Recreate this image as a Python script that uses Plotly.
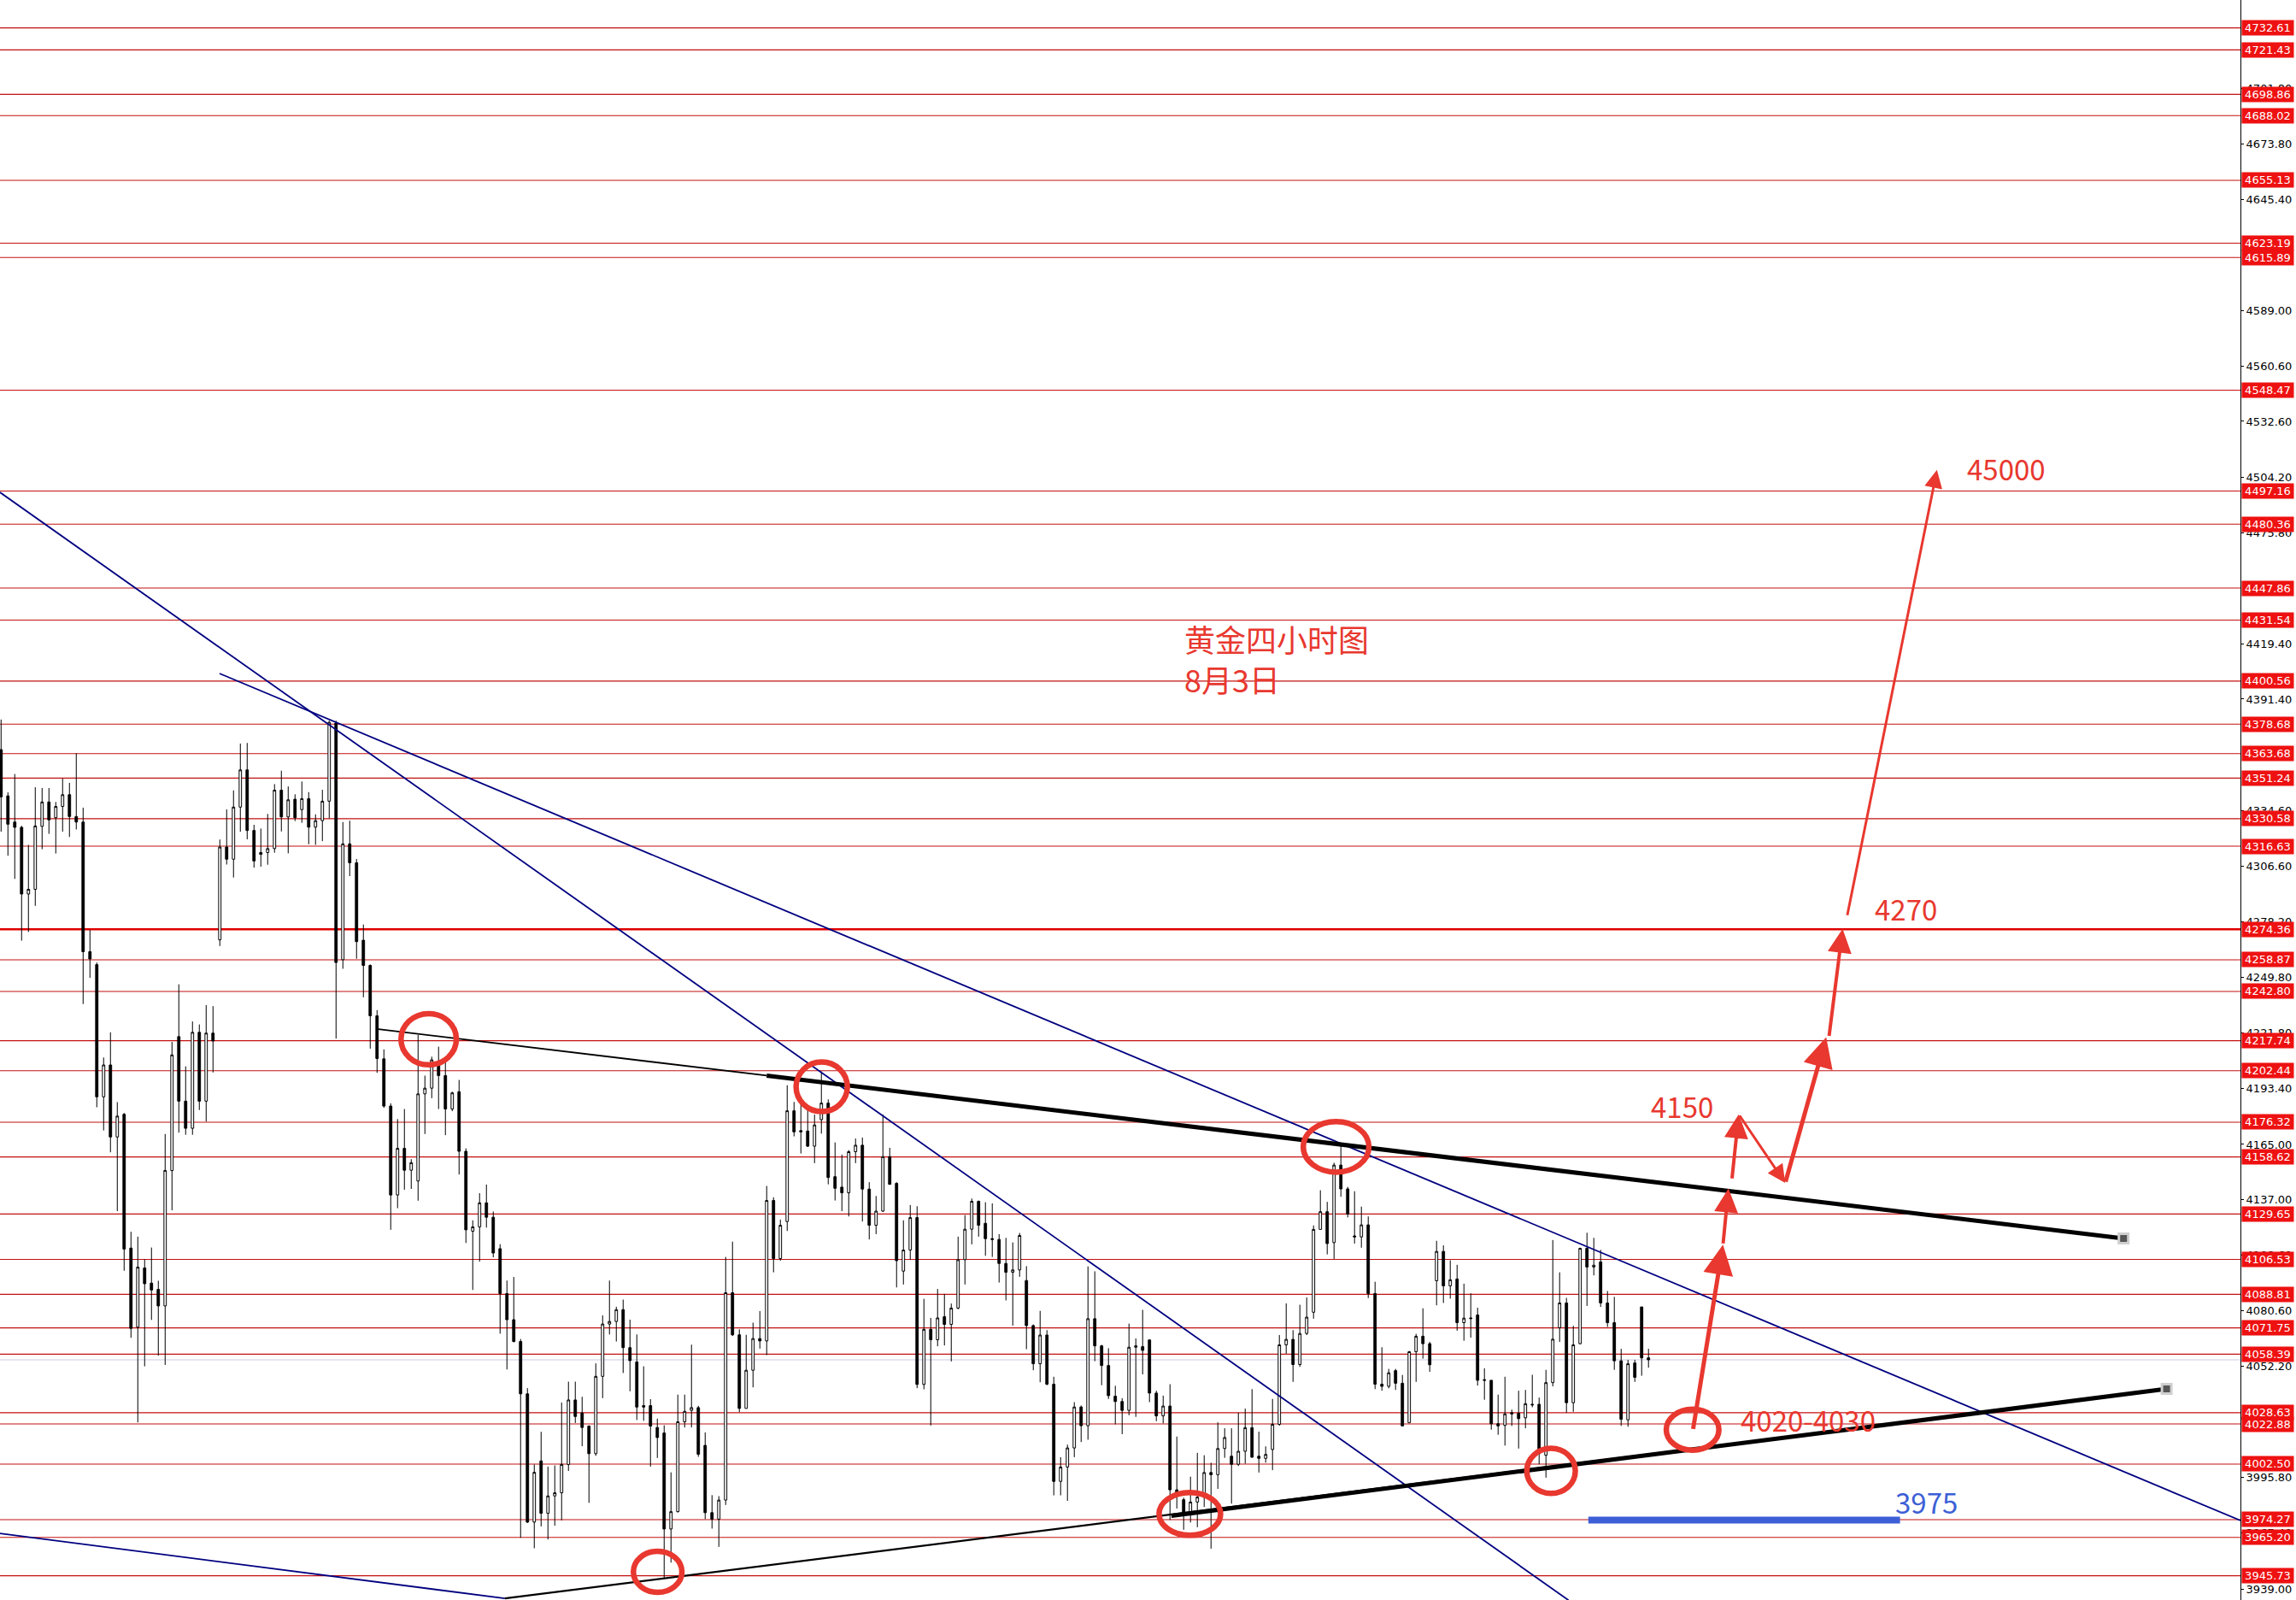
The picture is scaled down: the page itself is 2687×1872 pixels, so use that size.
"""
黄金四小时图 — MT4 style candles with hand-drawn levels, trend lines and targets.
"""

import plotly.graph_objects as go

# ── Candles (4h, oldest first) ────────────────────────────────────────────────
opens = [
    4365.7, 4342.2, 4328.9, 4326.2, 4292.3, 4294.7, 4326.7, 4339.1, 4331.1, 4336.8,
    4342.8, 4331.7, 4328.9, 4263.0, 4256.4, 4189.2, 4205.4, 4168.8, 4180.3, 4112.3,
    4072.1, 4102.2, 4094.5, 4091.3, 4082.9, 4151.7, 4219.8, 4187.0, 4173.2, 4222.0,
    4187.0, 4221.6, 4269.0, 4316.2, 4310.0, 4336.5, 4355.4, 4324.6, 4313.4, 4313.4,
    4315.4, 4345.1, 4331.5, 4340.5, 4335.2, 4340.8, 4326.3, 4329.6, 4339.5, 4379.2,
    4258.9, 4317.8, 4308.2, 4268.8, 4256.0, 4230.4, 4208.5, 4184.5, 4139.3, 4163.0,
    4151.9, 4146.4, 4190.7, 4193.6, 4207.4, 4200.0, 4183.0, 4191.8, 4161.5, 4120.9,
    4123.1, 4135.3, 4128.0, 4112.0, 4089.2, 4075.9, 4064.8, 4038.2, 3973.0, 4004.1,
    3977.5, 3986.3, 3987.9, 4002.3, 4035.1, 4028.5, 4021.8, 4007.8, 4047.1, 4073.7,
    4075.0, 4081.0, 4061.7, 4054.4, 4032.2, 4032.2, 4021.1, 4018.3, 3969.5, 3978.3,
    4024.0, 4029.8, 4031.2, 4012.0, 3977.8, 3974.5, 3984.2, 4089.6, 4068.2, 4030.8,
    4050.2, 4066.3, 4065.1, 4136.5, 4107.0, 4125.8, 4182.1, 4172.0, 4171.8, 4164.1,
    4177.6, 4186.0, 4148.6, 4143.3, 4140.4, 4161.3, 4164.6, 4142.3, 4123.9, 4131.1,
    4158.8, 4145.2, 4100.6, 4111.3, 4127.8, 4043.0, 4071.0, 4065.7, 4077.4, 4073.5,
    4081.8, 4106.4, 4121.9, 4136.1, 4124.9, 4117.1, 4116.7, 4104.5, 4100.0, 4101.2,
    4095.8, 4072.9, 4053.5, 4068.1, 4043.1, 3993.7, 4001.0, 4010.7, 4031.5, 4022.0,
    4076.4, 4062.6, 4052.6, 4037.0, 4034.3, 4029.8, 4061.9, 4062.2, 4065.6, 4038.6,
    4027.0, 4032.0, 3989.4, 3984.4, 3976.6, 3983.2, 3985.7, 3998.2, 3997.1, 4010.4,
    4006.5, 4002.4, 4009.0, 4021.0, 4006.5, 4005.4, 4009.9, 4022.7, 4063.1, 4065.9,
    4053.1, 4068.9, 4079.7, 4121.8, 4130.8, 4115.1, 4154.5, 4142.4, 4118.5, 4118.0,
    4124.1, 4089.2, 4043.1, 4042.0, 4050.0, 4043.6, 4023.5, 4059.6, 4067.5, 4063.7,
    4095.7, 4110.6, 4093.1, 4096.6, 4074.4, 4076.8, 4078.3, 4045.4, 4045.1, 4023.0,
    4022.2, 4028.6, 4028.3, 4026.0, 4032.9, 4032.9, 4007.0, 4043.9, 4071.8, 4084.4,
    4033.7, 4063.7, 4112.2, 4102.7, 4105.3, 4084.4, 4074.4, 4055.0, 4025.0, 4053.9,
    4082.4, 4056.5,
]
highs = [
    4381.0, 4344.0, 4353.3, 4327.0, 4317.3, 4346.6, 4346.2, 4346.2, 4339.1, 4351.0,
    4348.8, 4363.9, 4336.2, 4274.1, 4257.5, 4209.2, 4222.0, 4186.5, 4181.0, 4120.6,
    4118.1, 4106.6, 4112.6, 4095.7, 4170.3, 4217.1, 4246.4, 4204.7, 4227.5, 4226.0,
    4235.8, 4235.3, 4320.0, 4335.3, 4345.0, 4368.8, 4369.1, 4327.5, 4325.6, 4333.0,
    4348.2, 4355.0, 4347.0, 4343.0, 4349.5, 4344.1, 4332.8, 4345.3, 4380.4, 4380.4,
    4328.9, 4329.6, 4310.1, 4276.8, 4256.5, 4233.3, 4213.3, 4185.9, 4177.9, 4183.0,
    4157.5, 4220.7, 4200.0, 4209.6, 4214.7, 4207.4, 4191.8, 4197.8, 4163.0, 4126.4,
    4140.2, 4144.6, 4130.9, 4114.3, 4095.8, 4097.6, 4066.1, 4041.1, 4002.3, 4018.9,
    4001.2, 4001.8, 4033.8, 4044.4, 4044.4, 4036.7, 4022.2, 4053.7, 4078.1, 4095.8,
    4082.5, 4086.1, 4075.9, 4068.4, 4052.2, 4035.5, 4025.6, 4022.2, 3998.3, 4037.8,
    4037.8, 4063.2, 4032.1, 4018.6, 3986.7, 3986.2, 4107.8, 4115.6, 4071.0, 4068.2,
    4074.4, 4080.3, 4143.9, 4138.1, 4126.8, 4195.1, 4186.6, 4185.4, 4182.7, 4180.2,
    4202.1, 4187.9, 4166.0, 4159.8, 4162.1, 4168.0, 4168.5, 4145.8, 4138.8, 4180.2,
    4163.3, 4145.8, 4126.4, 4134.2, 4133.6, 4086.5, 4076.8, 4091.5, 4089.0, 4084.1,
    4118.1, 4129.1, 4137.5, 4136.5, 4135.6, 4135.0, 4119.4, 4117.5, 4115.2, 4120.0,
    4103.1, 4073.5, 4080.4, 4070.6, 4046.9, 4006.0, 4012.4, 4034.0, 4032.3, 4103.0,
    4100.5, 4063.1, 4061.4, 4042.3, 4036.0, 4073.9, 4066.4, 4080.9, 4065.9, 4039.8,
    4037.3, 4043.1, 4016.5, 3985.4, 3996.1, 4008.2, 4007.0, 4003.2, 4023.7, 4020.7,
    4020.7, 4028.6, 4030.7, 4040.6, 4019.0, 4011.5, 4035.6, 4068.1, 4084.2, 4070.6,
    4083.5, 4087.2, 4123.8, 4141.7, 4135.8, 4155.7, 4164.5, 4143.4, 4141.2, 4133.4,
    4128.4, 4095.2, 4061.9, 4050.9, 4050.9, 4047.8, 4060.0, 4068.7, 4081.7, 4064.6,
    4116.0, 4113.7, 4106.1, 4103.8, 4094.2, 4089.3, 4082.0, 4051.2, 4045.1, 4037.8,
    4046.9, 4030.2, 4039.8, 4040.2, 4047.9, 4036.3, 4050.4, 4116.4, 4100.0, 4087.0,
    4072.8, 4112.5, 4120.1, 4117.5, 4111.4, 4090.5, 4087.5, 4061.1, 4055.5, 4055.5,
    4082.4, 4061.1,
]
lows = [
    4324.0, 4311.8, 4300.0, 4268.6, 4273.0, 4286.3, 4315.1, 4322.9, 4312.9, 4324.0,
    4321.3, 4325.1, 4236.4, 4249.7, 4183.9, 4172.1, 4161.0, 4131.1, 4100.8, 4066.7,
    4023.7, 4052.2, 4075.8, 4057.6, 4052.9, 4131.5, 4171.0, 4169.9, 4169.9, 4182.5,
    4176.6, 4201.6, 4265.9, 4307.3, 4300.7, 4324.0, 4320.1, 4305.7, 4306.2, 4307.2,
    4313.3, 4324.1, 4313.0, 4329.4, 4328.5, 4317.6, 4317.3, 4319.2, 4330.8, 4218.8,
    4254.3, 4301.4, 4259.4, 4239.8, 4213.7, 4201.4, 4183.6, 4121.6, 4132.6, 4142.0,
    4142.4, 4136.4, 4170.3, 4188.5, 4183.0, 4169.7, 4181.9, 4149.7, 4114.9, 4091.0,
    4105.4, 4122.7, 4107.6, 4068.8, 4050.6, 4064.4, 3965.0, 3972.5, 3959.7, 3970.8,
    3964.2, 3971.2, 3973.9, 3999.0, 4023.4, 4011.6, 3982.8, 4006.7, 4036.0, 4068.4,
    4064.8, 4048.8, 4039.5, 4024.9, 4024.5, 4001.2, 4005.6, 3944.7, 3952.4, 3977.9,
    4021.1, 4021.1, 4006.2, 3974.5, 3969.7, 3960.4, 3981.7, 4067.6, 4028.9, 4030.8,
    4041.5, 4061.2, 4057.9, 4100.0, 4105.9, 4121.0, 4169.1, 4160.4, 4163.7, 4155.5,
    4170.5, 4144.7, 4136.5, 4131.1, 4128.4, 4155.5, 4125.8, 4116.7, 4119.4, 4130.7,
    4144.7, 4092.3, 4093.8, 4106.4, 4041.1, 4040.5, 4022.1, 4062.4, 4062.8, 4054.7,
    4081.2, 4093.8, 4114.2, 4118.1, 4108.4, 4107.8, 4094.8, 4085.7, 4072.9, 4097.7,
    4060.9, 4050.2, 4044.1, 4042.6, 3986.6, 3986.6, 3983.8, 4006.0, 4013.7, 4014.9,
    4054.8, 4042.6, 4035.6, 4022.7, 4017.7, 4027.3, 4026.5, 4048.1, 4034.0, 4024.3,
    4023.2, 3974.1, 3979.9, 3969.1, 3972.8, 3970.4, 3980.7, 3959.5, 3989.9, 4005.7,
    3982.4, 4001.5, 4002.7, 4005.7, 3998.2, 4003.2, 3999.4, 4022.0, 4058.6, 4044.3,
    4051.9, 4068.1, 4076.4, 4121.8, 4109.1, 4106.8, 4138.4, 4127.9, 4114.6, 4112.5,
    4086.9, 4040.6, 4039.8, 4041.0, 4040.2, 4021.9, 4023.5, 4044.3, 4056.1, 4049.4,
    4083.2, 4084.4, 4086.6, 4070.3, 4065.2, 4066.8, 4042.4, 4035.2, 4020.0, 4017.4,
    4011.9, 4021.9, 4010.4, 4020.7, 4031.4, 4002.4, 3995.6, 4042.0, 4064.6, 4028.6,
    4029.1, 4063.4, 4082.9, 4098.4, 4082.4, 4072.2, 4050.4, 4021.9, 4021.5, 4044.3,
    4047.4, 4051.5,
]
closes = [
    4341.7, 4327.8, 4326.2, 4292.3, 4294.7, 4326.9, 4339.1, 4330.0, 4336.8, 4342.8,
    4331.7, 4328.9, 4263.0, 4259.3, 4189.2, 4205.4, 4168.8, 4179.4, 4111.8, 4071.5,
    4102.6, 4094.2, 4091.0, 4082.9, 4151.8, 4210.5, 4187.0, 4173.2, 4222.0, 4187.0,
    4221.6, 4217.6, 4316.2, 4310.0, 4336.5, 4355.4, 4324.6, 4309.1, 4312.5, 4315.4,
    4345.1, 4331.5, 4340.2, 4331.1, 4340.8, 4326.3, 4329.6, 4339.5, 4379.6, 4257.5,
    4317.8, 4308.2, 4268.1, 4256.0, 4230.4, 4208.7, 4184.5, 4139.3, 4163.0, 4151.9,
    4155.7, 4190.7, 4193.6, 4208.0, 4200.0, 4183.0, 4191.2, 4161.5, 4121.6, 4123.1,
    4135.3, 4128.0, 4109.8, 4089.2, 4075.9, 4064.8, 4038.2, 3973.0, 3998.3, 3977.5,
    3986.3, 3987.9, 4002.3, 4035.1, 4026.7, 4021.1, 4007.8, 4047.1, 4073.7, 4075.0,
    4081.0, 4061.7, 4055.1, 4031.5, 4031.5, 4021.8, 4016.0, 3969.5, 3978.3, 4024.0,
    4029.3, 4031.2, 4007.5, 3977.8, 3974.5, 3984.2, 4089.6, 4068.2, 4030.8, 4050.2,
    4066.3, 4065.1, 4136.5, 4107.0, 4123.9, 4182.1, 4171.4, 4171.4, 4164.1, 4174.9,
    4186.0, 4148.2, 4142.7, 4140.4, 4161.3, 4164.6, 4142.3, 4123.9, 4131.1, 4158.8,
    4144.7, 4105.9, 4111.3, 4127.8, 4043.0, 4071.0, 4065.7, 4076.8, 4073.5, 4081.8,
    4106.4, 4121.9, 4136.1, 4123.9, 4117.1, 4116.7, 4104.5, 4100.0, 4101.2, 4118.7,
    4072.9, 4053.5, 4068.1, 4043.1, 3993.7, 4001.0, 4010.7, 4031.5, 4022.0, 4076.4,
    4062.6, 4052.6, 4037.3, 4034.3, 4029.8, 4061.9, 4062.6, 4060.3, 4038.6, 4027.0,
    4032.0, 3989.4, 3987.1, 3976.6, 3983.2, 3985.7, 3998.2, 3997.1, 4010.4, 4016.0,
    4002.4, 4009.0, 4021.0, 4006.0, 4005.4, 4007.4, 4022.7, 4063.1, 4065.9, 4053.1,
    4068.9, 4077.2, 4121.8, 4130.8, 4114.6, 4154.5, 4142.4, 4129.6, 4118.0, 4124.1,
    4089.2, 4043.1, 4042.0, 4048.9, 4043.6, 4021.9, 4059.6, 4067.5, 4063.7, 4053.0,
    4110.6, 4093.1, 4096.2, 4074.4, 4076.7, 4076.5, 4045.1, 4045.1, 4023.0, 4021.9,
    4028.0, 4028.0, 4025.6, 4033.2, 4032.6, 4007.8, 4043.9, 4066.0, 4084.4, 4033.7,
    4063.1, 4112.2, 4102.7, 4103.6, 4084.4, 4074.4, 4055.0, 4025.3, 4053.5, 4046.6,
    4056.5, 4055.5,
]
bars = list(range(len(opens)))

# ── Horizontal levels (price labels on the right axis) ────────────────────────
levels = [
    4732.61, 4721.43, 4698.86, 4688.02, 4655.13, 4623.19, 4615.89, 4548.47,
    4497.16, 4480.36, 4447.86, 4431.54, 4400.56, 4378.68, 4363.68, 4351.24,
    4330.58, 4316.63, 4274.36, 4258.87, 4242.80, 4217.74, 4202.44, 4176.32,
    4158.62, 4129.65, 4106.53, 4088.81, 4071.75, 4058.39, 4028.63, 4022.88,
    4002.50, 3974.27, 3965.20, 3945.73,
]
key_level = 4274.36
last_price = 4055.5

# axis ticks (terminal scale)
ticks = [
    4701.80, 4673.80, 4645.40, 4589.00, 4560.60, 4532.60, 4504.20, 4475.80,
    4419.40, 4391.40, 4334.60, 4306.60, 4278.20, 4249.80, 4221.80, 4193.40,
    4165.00, 4137.00, 4108.60, 4080.60, 4052.20, 3995.80, 3967.40, 3939.00,
]

# ── Trend lines: (bar, price) end points ──────────────────────────────────────
blue_a_x, blue_a_y = [-0.16, 229.3], [4496.5, 3933.3]
blue_b_x, blue_b_y = [31.96, 327.6], [4404.4, 3973.8]
blue_c_x, blue_c_y = [-0.16, 73.7], [3967.2, 3934.2]
res_thin_x, res_thin_y = [55.2, 112.0], [4223.6, 4200.0]
res_x, res_y = [112.0, 310.5], [4200.0, 4117.2]
sup_thin_x, sup_thin_y = [73.7, 316.8], [3934.2, 4040.7]
sup_x, sup_y = [171.2, 316.8], [3976.2, 4040.7]
line_3975_x, line_3975_y = [232.2, 277.8], [3974.0, 3974.0]

# red circles: x0, x1, y0, y1 (bar / price)
circles = [
    (58.5, 66.6, 4205.5, 4231.5),
    (116.3, 123.8, 4181.7, 4206.9),
    (190.5, 200.1, 4150.9, 4176.6),
    (223.2, 230.3, 3987.6, 4010.5),
    (169.4, 178.4, 3966.3, 3988.0),
    (92.5, 99.6, 3937.3, 3958.2),
    (243.6, 251.3, 4009.6, 4030.4),
]

# projected path: tail -> head
arrows = [
    ((247.5, 4019.7), (251.9, 4114.0), 5),
    ((251.9, 4114.0), (252.7, 4142.6), 4),
    ((253.2, 4147.1), (254.2, 4180.3), 4),
    ((254.2, 4180.3), (261.0, 4145.4), 3),
    ((261.0, 4145.4), (267.0, 4219.5), 5),
    ((267.4, 4219.5), (269.4, 4274.6), 4),
    ((270.05, 4280.9), (283.2, 4507.9), 3),
]

labels = [
    ("4150", 241.1, 4184.7, "#e8382f"),
    ("4270", 273.9, 4285.1, "#e8382f"),
    ("45000", 287.3, 4508.7, "#e8382f"),
    ("4020-4030", 254.2, 4025.0, "#e8382f"),
    ("3975", 276.8, 3983.3, "#3d5fd6"),
]
title_text = "黄金四小时图<br>8月3日"
title_pos = (172.8, 4412.0)

RED = "#e8382f"
NAVY = "#000080"

fig = go.Figure()

fig.add_trace(go.Candlestick(
    x=bars, open=opens, high=highs, low=lows, close=closes,
    increasing=dict(line=dict(color="black", width=1), fillcolor="white"),
    decreasing=dict(line=dict(color="black", width=1), fillcolor="black"),
    whiskerwidth=0, hoverinfo="skip", showlegend=False,
))

def add_line(xs, ys, color, width):
    fig.add_trace(go.Scatter(
        x=xs, y=ys, mode="lines", line=dict(color=color, width=width),
        hoverinfo="skip", showlegend=False,
    ))

add_line(blue_a_x, blue_a_y, NAVY, 1.8)
add_line(blue_b_x, blue_b_y, NAVY, 1.8)
add_line(blue_c_x, blue_c_y, NAVY, 1.8)
add_line(res_thin_x, res_thin_y, "black", 1.8)
add_line(res_x, res_y, "black", 5)
add_line(sup_thin_x, sup_thin_y, "black", 2.2)
add_line(sup_x, sup_y, "black", 5)
add_line(line_3975_x, line_3975_y, "#3d5fd6", 8)

# end caps of the thick lines
fig.add_trace(go.Scatter(
    x=[res_x[1], sup_x[1]], y=[res_y[1], sup_y[1]], mode="markers",
    marker=dict(symbol="square", size=11, color="#555555",
                line=dict(color="#cfcfcf", width=3)),
    hoverinfo="skip", showlegend=False,
))

# ── Shapes: level lines + circles ─────────────────────────────────────────────
for lv in levels:
    fig.add_shape(
        type="line", xref="paper", x0=0, x1=1, yref="y", y0=lv, y1=lv,
        line=dict(color="#e00000" if lv == key_level else "#c41010",
                  width=2.4 if lv == key_level else 1.1),
        layer="below",
    )
fig.add_shape(
    type="line", xref="paper", x0=0, x1=1, yref="y", y0=last_price, y1=last_price,
    line=dict(color="#c9c9e6", width=1), layer="below",
)

for x0, x1, y0, y1 in circles:
    fig.add_shape(
        type="circle", xref="x", yref="y", x0=x0, x1=x1, y0=y0, y1=y1,
        line=dict(color=RED, width=6.5),
    )

# ── Annotations ───────────────────────────────────────────────────────────────
for lv in levels:
    fig.add_annotation(
        xref="paper", x=1, xanchor="left", xshift=1,
        yref="y", y=lv, yanchor="middle",
        text=f"{lv:.2f}", showarrow=False,
        font=dict(family="DejaVu Sans", size=13, color="white"),
        bgcolor="#ee1111", width=60, height=17, borderpad=0,
    )

for (tx, ty), (hx, hy), w in arrows:
    fig.add_annotation(
        x=hx, y=hy, ax=tx, ay=ty, xref="x", yref="y", axref="x", ayref="y",
        text="", showarrow=True, arrowhead=2, arrowsize=1.4,
        arrowwidth=w, arrowcolor=RED,
    )

for txt, lx, ly, col in labels:
    fig.add_annotation(
        x=lx, y=ly, xref="x", yref="y", xanchor="left", yanchor="middle",
        text=txt, showarrow=False,
        font=dict(family="Noto Sans CJK SC", size=33, color=col),
    )

fig.add_annotation(
    x=title_pos[0], y=title_pos[1], xref="x", yref="y",
    xanchor="left", yanchor="middle", align="left",
    text=title_text, showarrow=False,
    font=dict(family="Noto Sans CJK SC", size=36, color=RED),
)

fig.update_layout(
    width=2687, height=1872,
    margin=dict(l=0, r=65, t=0, b=0),
    plot_bgcolor="white", paper_bgcolor="white",
    boxgap=0.5,
    xaxis=dict(range=[-0.16, 327.6], visible=False, rangeslider=dict(visible=False),
               fixedrange=True),
    yaxis=dict(
        side="right", range=[3933.4, 4746.8],
        tickvals=ticks, ticktext=[f"{t:.2f}" for t in ticks],
        ticks="outside", ticklen=3, tickcolor="black",
        showline=True, linecolor="black", linewidth=1,
        showgrid=False, zeroline=False,
        tickfont=dict(family="DejaVu Sans", size=13, color="black"),
        fixedrange=True,
    ),
    font=dict(family="DejaVu Sans"),
)

# the page's default body margin would push the chart 8px off the window
fig.write_html(
    "out.html",
    config={"displayModeBar": False},
    post_script="document.body.style.margin='0px';",
)
